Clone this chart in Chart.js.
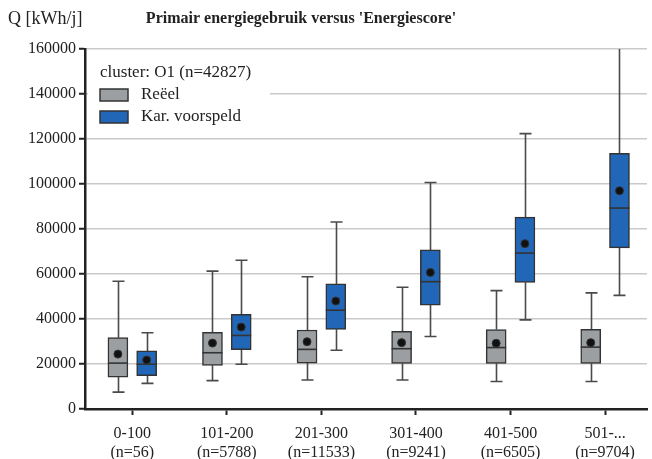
<!DOCTYPE html>
<html lang="nl">
<head>
    <meta charset="UTF-8">
    <title>Primair energiegebruik versus 'Energiescore'</title>
    <script src="https://cdn.jsdelivr.net/npm/chart.js"></script>
    <style>
        html, body { margin: 0; padding: 0; background: #fff; }
        .wrap { width: 652px; height: 459px; position: relative; }
    </style>
</head>
<body>
    <div class="wrap">
        <canvas id="myChart"></canvas>
    </div>

    <script>
        // categorieen en aantallen
        const categories = ['0-100', '101-200', '201-300', '301-400', '401-500', '501-...'];
        const counts = ['(n=56)', '(n=5788)', '(n=11533)', '(n=9241)', '(n=6505)', '(n=9704)'];

        // Reëel
        const reeelMin    = [7500, 12600, 12900, 12900, 12200, 12200];
        const reeelQ1     = [14200, 19400, 20400, 20300, 20300, 20300];
        const reeelMedian = [20400, 25000, 26500, 26800, 27300, 27500];
        const reeelMean   = [24400, 29300, 29900, 29500, 29200, 29500];
        const reeelQ3     = [31700, 34100, 35100, 34500, 35300, 35400];
        const reeelMax    = [56800, 61300, 58800, 54100, 52600, 51600];

        // Kar. voorspeld
        const voorspeldMin    = [11400, 19900, 26100, 32200, 39600, 50500];
        const voorspeldQ1     = [14800, 26400, 35400, 46200, 56300, 71600];
        const voorspeldMedian = [19900, 32700, 43900, 56600, 69300, 89300];
        const voorspeldMean   = [21800, 36400, 48000, 60700, 73500, 97000];
        const voorspeldQ3     = [25800, 42100, 55600, 70700, 85300, 113600];
        const voorspeldMax    = [33900, 66100, 83100, 100700, 122400, 175000];

        const yMin = 0, yMax = 160000, yStep = 20000;

        const SERIF = "'Liberation Serif', 'DejaVu Serif', serif";
        const TXT = '#222';
        const GRAY = '#9b9fa2';
        const BLUE = '#2166b7';
        const EDGE = '#333';

        Chart.defaults.font.family = SERIF;
        Chart.defaults.font.size = 16;
        Chart.defaults.color = TXT;

        const off = 0.152; // halve afstand tussen de twee boxen (in categorie-eenheden)

        const groups = [
            { name: 'Reeel', shift: -off, min: reeelMin, q1: reeelQ1, med: reeelMedian, mean: reeelMean, q3: reeelQ3, max: reeelMax, fill: GRAY },
            { name: 'Voorspeld', shift: off, min: voorspeldMin, q1: voorspeldQ1, med: voorspeldMedian, mean: voorspeldMean, q3: voorspeldQ3, max: voorspeldMax, fill: BLUE }
        ];

        function boxData(g) {
            return categories.map((c, i) => ({ x: i + g.shift, y: [g.q1[i], g.q3[i]] }));
        }
        function meanData(g) {
            return categories.map((c, i) => ({ x: i + g.shift, y: g.mean[i] }));
        }

        const boxDecor = {
            id: 'boxDecor',
            beforeDatasetsDraw(chart) {
                const xs = chart.scales.x, ys = chart.scales.y, a = chart.chartArea;
                const ctx = chart.ctx;
                ctx.save();
                ctx.beginPath();
                ctx.rect(a.left, a.top, a.right - a.left, a.bottom - a.top);
                ctx.clip();
                ctx.strokeStyle = '#4a4a4a';
                ctx.lineWidth = 1.6;
                groups.forEach(g => {
                    categories.forEach((c, i) => {
                        const px = Math.round(xs.getPixelForValue(i + g.shift)) + 0.5;
                        const lo = ys.getPixelForValue(g.min[i]);
                        const hi = ys.getPixelForValue(g.max[i]);
                        const b1 = ys.getPixelForValue(g.q1[i]);
                        const b3 = ys.getPixelForValue(g.q3[i]);
                        ctx.beginPath();
                        ctx.moveTo(px, lo); ctx.lineTo(px, b1);
                        ctx.moveTo(px, b3); ctx.lineTo(px, hi);
                        ctx.moveTo(px - 6, lo); ctx.lineTo(px + 6, lo);
                        ctx.moveTo(px - 6, hi); ctx.lineTo(px + 6, hi);
                        ctx.stroke();
                    });
                });
                ctx.restore();
            },
            afterDatasetDraw(chart, args) {
                const ds = chart.data.datasets[args.index];
                if (ds.type !== 'bar') return;
                const g = groups[ds.groupIndex];
                const xs = chart.scales.x, ys = chart.scales.y;
                const ctx = chart.ctx;
                ctx.save();
                ctx.strokeStyle = EDGE;
                ctx.lineWidth = 1.6;
                categories.forEach((c, i) => {
                    const px = xs.getPixelForValue(i + g.shift);
                    const py = ys.getPixelForValue(g.med[i]);
                    ctx.beginPath();
                    ctx.moveTo(px - 10, py);
                    ctx.lineTo(px + 10, py);
                    ctx.stroke();
                });
                ctx.restore();
            },
            afterDraw(chart) {
                const ctx = chart.ctx;
                ctx.save();
                // titel
                ctx.fillStyle = TXT;
                ctx.textBaseline = 'middle';
                ctx.font = "bold 16px " + SERIF;
                ctx.textAlign = 'center';
                ctx.fillText("Primair energiegebruik versus 'Energiescore'", 301, 19);
                ctx.font = "18px " + SERIF;
                ctx.textAlign = 'left';
                ctx.fillText('Q [kWh/j]', 8, 19);

                // legende
                ctx.fillStyle = '#fff';
                ctx.fillRect(88, 58, 182, 72);
                ctx.fillStyle = TXT;
                ctx.font = "17px " + SERIF;
                ctx.fillText('cluster: O1 (n=42827)', 100, 73);
                const items = [['Reëel', GRAY, 95], ['Kar. voorspeld', BLUE, 117]];
                items.forEach(([label, col, y]) => {
                    ctx.fillStyle = col;
                    ctx.fillRect(100, y - 6, 28, 12);
                    ctx.strokeStyle = EDGE;
                    ctx.lineWidth = 1.5;
                    ctx.strokeRect(100, y - 6, 28, 12);
                    ctx.fillStyle = TXT;
                    ctx.fillText(label, 141, y);
                });
                ctx.restore();
            }
        };

        const ctx = document.getElementById('myChart').getContext('2d');
        new Chart(ctx, {
            type: 'bar',
            data: {
                datasets: [
                    { type: 'scatter', data: meanData(groups[0]), backgroundColor: '#111', borderColor: '#333', pointRadius: 4, pointHoverRadius: 4, order: 0 },
                    { type: 'scatter', data: meanData(groups[1]), backgroundColor: '#111', borderColor: '#333', pointRadius: 4, pointHoverRadius: 4, order: 0 },
                    { type: 'bar', groupIndex: 0, data: boxData(groups[0]), backgroundColor: GRAY, borderColor: EDGE, borderWidth: 1.5, borderSkipped: false, barThickness: 20, grouped: false, order: 1 },
                    { type: 'bar', groupIndex: 1, data: boxData(groups[1]), backgroundColor: BLUE, borderColor: EDGE, borderWidth: 1.5, borderSkipped: false, barThickness: 20, grouped: false, order: 1 }
                ]
            },
            options: {
                responsive: true,
                maintainAspectRatio: false,
                devicePixelRatio: 1,
                animation: false,
                layout: { padding: { top: 49, left: 0, right: 0, bottom: 0 } },
                plugins: {
                    legend: { display: false },
                    title: { display: false },
                    tooltip: { enabled: false }
                },
                scales: {
                    x: {
                        type: 'linear',
                        min: -0.5,
                        max: 5.443,
                        offset: false,
                        afterBuildTicks: axis => {
                            axis.ticks = categories.map((c, i) => ({ value: i }));
                        },
                        afterFit: axis => { axis.height = 50; },
                        ticks: {
                            autoSkip: false,
                            maxRotation: 0,
                            padding: 9,
                            color: TXT,
                            font: { size: 16, family: SERIF },
                            callback: (v, i) => [categories[i], counts[i]]
                        },
                        grid: { display: true, offset: false, drawOnChartArea: false, tickLength: 6, tickColor: '#222', tickWidth: 2 },
                        border: { color: '#222', width: 2.5 }
                    },
                    y: {
                        min: yMin,
                        max: yMax,
                        afterFit: axis => { axis.width = 85; },
                        ticks: {
                            stepSize: yStep,
                            padding: 3,
                            color: TXT,
                            font: { size: 16, family: SERIF },
                            callback: v => String(v)
                        },
                        grid: { color: '#c9c9c9', lineWidth: 1.5, tickLength: 6, tickColor: '#222', tickWidth: 2 },
                        border: { color: '#222', width: 2.5 }
                    }
                }
            },
            plugins: [boxDecor]
        });
    </script>
</body>
</html>
